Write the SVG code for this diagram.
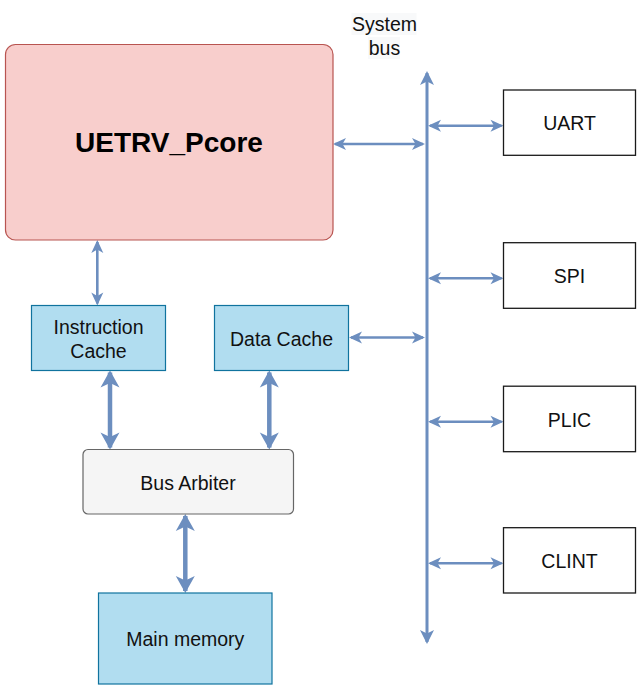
<svg xmlns="http://www.w3.org/2000/svg" width="641" height="691" viewBox="0 0 641 691">
  <style>
    .lbl { font-family: "Liberation Sans", Arial, sans-serif; font-size: 19.5px; fill: #111111; text-anchor: middle; dominant-baseline: central; }
    .title { font-size: 28px; font-weight: bold; fill: #000; }
    .periph { fill: #ffffff; stroke: #1a1a1a; stroke-width: 1.3; }
    .cache { fill: #b1ddf0; stroke: #10739e; stroke-width: 1.2; }
    .thin { stroke: #6c8ebf; stroke-width: 2.6; fill: none; marker-start: url(#hs); marker-end: url(#hs); }
    .thick { stroke: #6c8ebf; stroke-width: 4.5; fill: none; marker-start: url(#hl); marker-end: url(#hl); }
    .bus { stroke: #6c8ebf; stroke-width: 3; fill: none; marker-start: url(#hb); marker-end: url(#hb); }
  </style>
  <defs>
    <marker id="hs" markerUnits="userSpaceOnUse" markerWidth="14" markerHeight="13" refX="11" refY="6" orient="auto-start-reverse" overflow="visible">
      <path d="M 13 6 L 0 0 L 3.5 6 L 0 12 Z" fill="#6c8ebf"/>
    </marker>
    <marker id="hl" markerUnits="userSpaceOnUse" markerWidth="18" markerHeight="20" refX="15" refY="9.5" orient="auto-start-reverse" overflow="visible">
      <path d="M 17 9.5 L 0 0 L 4.5 9.5 L 0 19 Z" fill="#6c8ebf"/>
    </marker>
    <marker id="hb" markerUnits="userSpaceOnUse" markerWidth="15" markerHeight="15" refX="12" refY="7" orient="auto-start-reverse" overflow="visible">
      <path d="M 14 7 L 0 0 L 3.5 7 L 0 14 Z" fill="#6c8ebf"/>
    </marker>
  </defs>
  <rect width="641" height="691" fill="#ffffff"/>

  <g id="connectors">
    <line class="bus" x1="427" y1="73" x2="427" y2="642"/>
    <line class="thin" x1="335" y1="144" x2="423" y2="144"/>
    <line class="thin" x1="430" y1="125.7" x2="501.5" y2="125.7"/>
    <line class="thin" x1="430" y1="278.3" x2="501.5" y2="278.3"/>
    <line class="thin" x1="351" y1="337.5" x2="423" y2="337.5"/>
    <line class="thin" x1="430" y1="421.7" x2="501.5" y2="421.7"/>
    <line class="thin" x1="430" y1="563.3" x2="501.5" y2="563.3"/>
    <line class="thin" x1="97.3" y1="242" x2="97.3" y2="303.5"/>
    <line class="thick" x1="110" y1="372.5" x2="110" y2="447.5"/>
    <line class="thick" x1="269.3" y1="372.5" x2="269.3" y2="447.5"/>
    <line class="thick" x1="185.3" y1="516" x2="185.3" y2="591"/>
  </g>

  <g id="system-bus-label">
    <rect x="351.5" y="13" width="65" height="22" fill="#f8f9fa"/>
    <rect x="368" y="37" width="32" height="22" fill="#f8f9fa"/>
    <text class="lbl" x="384.5" y="24">System</text>
    <text class="lbl" x="384.5" y="48">bus</text>
  </g>

  <g id="core">
    <rect x="5.5" y="44.5" width="327.5" height="195.5" rx="10" fill="#f8cecc" stroke="#b85450" stroke-width="1.2"/>
    <text class="lbl title" x="169" y="142">UETRV_Pcore</text>
  </g>

  <g id="icache">
    <rect class="cache" x="31.5" y="305.5" width="134" height="65"/>
    <text class="lbl" x="98.5" y="327.3">Instruction</text>
    <text class="lbl" x="98.5" y="350.7">Cache</text>
  </g>

  <g id="dcache">
    <rect class="cache" x="214.5" y="305.5" width="134" height="65"/>
    <text class="lbl" x="281.5" y="338.5">Data Cache</text>
  </g>

  <g id="arbiter">
    <rect x="83" y="449.5" width="210.5" height="64.5" rx="5" fill="#f5f5f5" stroke="#666666" stroke-width="1.2"/>
    <text class="lbl" x="188" y="482.5">Bus Arbiter</text>
  </g>

  <g id="mainmem">
    <rect class="cache" x="98.5" y="593" width="173.5" height="91"/>
    <text class="lbl" x="185.3" y="639">Main memory</text>
  </g>

  <g id="uart">
    <rect class="periph" x="503.5" y="90" width="132" height="65.3"/>
    <text class="lbl" x="569.5" y="122.5">UART</text>
  </g>

  <g id="spi">
    <rect class="periph" x="503.5" y="242.7" width="132" height="65.6"/>
    <text class="lbl" x="569.5" y="276">SPI</text>
  </g>

  <g id="plic">
    <rect class="periph" x="503.5" y="386.2" width="132" height="65.5"/>
    <text class="lbl" x="569.5" y="419.5">PLIC</text>
  </g>

  <g id="clint">
    <rect class="periph" x="503.5" y="527.7" width="132" height="65.3"/>
    <text class="lbl" x="569.5" y="561">CLINT</text>
  </g>
</svg>
